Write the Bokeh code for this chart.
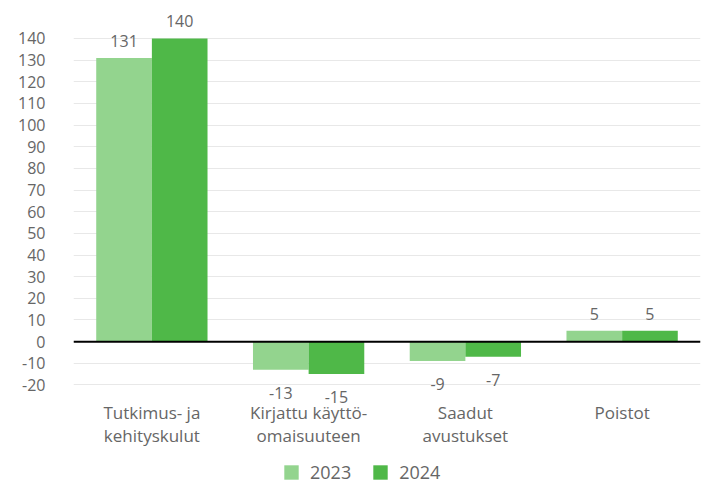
from bokeh.plotting import figure
from bokeh.models import ColumnDataSource, FactorRange, Range1d, FixedTicker, Legend, LegendItem, Span
from bokeh.core.properties import value
from bokeh.transform import dodge
from bokeh.embed import file_html
from bokeh.resources import INLINE

categories = ["Tutkimus- ja\nkehityskulut", "Kirjattu käyttö-\nomaisuuteen", "Saadut\navustukset", "Poistot"]
values_2023 = [131, -13, -9, 5]
values_2024 = [140, -15, -7, 5]
years = ["2023", "2024"]
y_ticks = [-20, -10, 0, 10, 20, 30, 40, 50, 60, 70, 80, 90, 100, 110, 120, 130, 140]

FONT = "Open Sans"
TXT = "#666666"
C23 = "#93d48e"
C24 = "#4fb848"

p = figure(x_range=FactorRange(*categories), y_range=Range1d(-66.9, 152),
           frame_width=627, frame_height=474, output_backend="svg", toolbar_location=None,
           min_border_left=73, min_border_right=7, min_border_top=12, min_border_bottom=0)
p.outline_line_color = None
p.background_fill_color = "white"
p.border_fill_color = "white"

src = ColumnDataSource(dict(cat=categories, v23=values_2023, v24=values_2024))

r23 = p.vbar(x=dodge("cat", -0.1775, range=p.x_range), top="v23", bottom=0, width=0.355,
             source=src, fill_color=C23, line_color=None)
r24 = p.vbar(x=dodge("cat", 0.1775, range=p.x_range), top="v24", bottom=0, width=0.355,
             source=src, fill_color=C24, line_color=None)

for vals, off in ((values_2023, -0.1775), (values_2024, 0.1775)):
    pos = [(c, v) for c, v in zip(categories, vals) if v >= 0]
    neg = [(c, v) for c, v in zip(categories, vals) if v < 0]
    ps = ColumnDataSource(dict(cat=[c for c, _ in pos], v=[v for _, v in pos], t=[str(v) for _, v in pos]))
    ns = ColumnDataSource(dict(cat=[c for c, _ in neg], v=[v for _, v in neg], t=[str(v) for _, v in neg]))
    p.text(x=dodge("cat", off, range=p.x_range), y="v", text="t", source=ps,
           text_align="center", text_baseline="bottom", y_offset=-11,
           text_font_size="16px", text_color=TXT, text_font=value(FONT))
    p.text(x=dodge("cat", off, range=p.x_range), y="v", text="t", source=ns,
           text_align="center", text_baseline="top", y_offset=17,
           text_font_size="16px", text_color=TXT, text_font=value(FONT))

# category labels (two lines) below the lowest tick
line1 = [c.split("\n")[0] for c in categories]
line2 = [c.split("\n")[1] if "\n" in c else "" for c in categories]
base = [y_ticks[0]] * len(categories)
csrc = ColumnDataSource(dict(cat=categories, y=base, l1=line1, l2=line2))
p.text(x="cat", y="y", text="l1", source=csrc, text_align="center", text_baseline="middle",
       y_offset=28, text_font_size="17px", text_color=TXT, text_font=value(FONT))
p.text(x="cat", y="y", text="l2", source=csrc, text_align="center", text_baseline="middle",
       y_offset=51, text_font_size="17px", text_color=TXT, text_font=value(FONT))

p.add_layout(Span(location=0, dimension="width", line_color="black", line_width=2))

p.yaxis.ticker = FixedTicker(ticks=y_ticks)
p.yaxis.major_label_overrides = {t: str(t) for t in y_ticks}
p.yaxis.axis_line_color = None
p.yaxis.major_tick_line_color = None
p.yaxis.major_tick_out = 0
p.yaxis.minor_tick_line_color = None
p.yaxis.major_label_standoff = 28
p.yaxis.major_label_text_font = FONT
p.yaxis.major_label_text_font_size = "16px"
p.yaxis.major_label_text_color = TXT

p.xaxis.visible = False

p.xgrid.grid_line_color = None
p.ygrid.ticker = FixedTicker(ticks=y_ticks)
p.ygrid.grid_line_color = "#e8e8e8"
p.ygrid.grid_line_width = 1

legend = Legend(items=[LegendItem(label=years[0], renderers=[r23]),
                       LegendItem(label=years[1], renderers=[r24])],
                orientation="horizontal", location=(209, 2),
                glyph_width=18, glyph_height=18, label_standoff=10, spacing=20,
                label_text_font=FONT, label_text_font_size="18px", label_text_color=TXT,
                border_line_color=None, background_fill_alpha=0, padding=0, margin=0)
p.add_layout(legend)

open("out.html", "w").write(file_html(p, INLINE))
